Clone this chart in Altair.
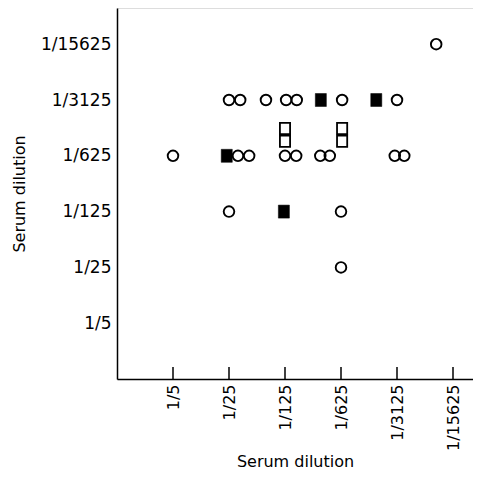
import altair as alt
import pandas as pd

# Dilution labels (log5 index 1..6)
dilution_labels = ["1/5", "1/25", "1/125", "1/625", "1/3125", "1/15625"]
tick_index = [1, 2, 3, 4, 5, 6]

# Open circles (x index, y index)
circle_x = [2.0, 2.2, 2.66, 3.02, 3.21, 4.02, 5.0,
            1.0, 2.16, 2.36, 3.0, 3.2, 3.63, 3.8, 4.96, 5.13,
            2.0, 4.0,
            4.0,
            5.7]
circle_y = [5, 5, 5, 5, 5, 5, 5,
            4, 4, 4, 4, 4, 4, 4, 4, 4,
            3, 3,
            2,
            6]

# Filled squares
filled_x = [3.64, 4.63, 1.96, 2.98]
filled_y = [5, 5, 4, 3]

# Open squares
open_x = [3.0, 3.0, 4.02, 4.02]
open_y = [4.49, 4.26, 4.49, 4.26]

W, H = 356, 371
XMAX = W / 56.0
YMAX = H / 55.8

df = pd.DataFrame({
    "x": circle_x + filled_x + open_x,
    "y": circle_y + filled_y + open_y,
    "kind": ["circle"] * len(circle_x) + ["filled"] * len(filled_x) + ["open"] * len(open_x),
})
ticks = pd.DataFrame({"t": tick_index})

lab_expr = "[''," + ",".join("'%s'" % s for s in dilution_labels) + "][datum.value]"

FONT = "DejaVu Sans"

xscale = alt.Scale(domain=[0, XMAX], nice=False, zero=False)
yscale = alt.Scale(domain=[0, YMAX], nice=False, zero=False)

xaxis = alt.Axis(values=tick_index, labelExpr=lab_expr, labelAngle=270, tickSize=0,
                 labelPadding=5, grid=False, domainColor="black", domainWidth=1.5,
                 labelFont=FONT, labelFontSize=16, labelColor="black",
                 title="Serum dilution", titleFont=FONT, titleFontSize=16,
                 titleFontWeight="normal", titleColor="black", titlePadding=3)
yaxis = alt.Axis(values=tick_index, labelExpr=lab_expr, tickSize=0,
                 labelPadding=6, grid=False, domainColor="black", domainWidth=1.5,
                 labelFont=FONT, labelFontSize=17, labelColor="black",
                 title="Serum dilution", titleFont=FONT, titleFontSize=16,
                 titleFontWeight="normal", titleColor="black", titlePadding=13)

base = alt.Chart(df).encode(
    x=alt.X("x:Q", scale=xscale, axis=xaxis),
    y=alt.Y("y:Q", scale=yscale, axis=yaxis),
)

circles = base.transform_filter(alt.datum.kind == "circle").mark_point(
    shape="circle", filled=False, size=112, stroke="black", strokeWidth=1.9, opacity=1)

filled_path = "M-0.85,-1 L0.85,-1 L0.85,1 L-0.85,1 Z"
open_path = "M-0.91,-1 L0.91,-1 L0.91,1 L-0.91,1 Z"

filled = base.transform_filter(alt.datum.kind == "filled").mark_point(
    shape=filled_path, filled=True, size=169, fill="black", stroke="black",
    strokeWidth=0.5, opacity=1)

opens = base.transform_filter(alt.datum.kind == "open").mark_point(
    shape=open_path, filled=False, size=125, stroke="black", strokeWidth=1.8, opacity=1)

tick_marks = alt.Chart(ticks).mark_rule(color="black", strokeWidth=1.5).encode(
    x=alt.X("t:Q", scale=xscale),
    y=alt.datum(0, scale=yscale),
    y2=alt.datum(12 / 55.8),
)

chart = alt.layer(tick_marks, circles, filled, opens).properties(
    width=W, height=H,
    autosize=alt.AutoSizeParams(type="none"),
    padding={"left": 109, "top": 0, "right": 0, "bottom": 95},
).configure_view(stroke=None).configure(background="white")

chart.save("out.html", embed_options={"renderer": "svg", "actions": False})
